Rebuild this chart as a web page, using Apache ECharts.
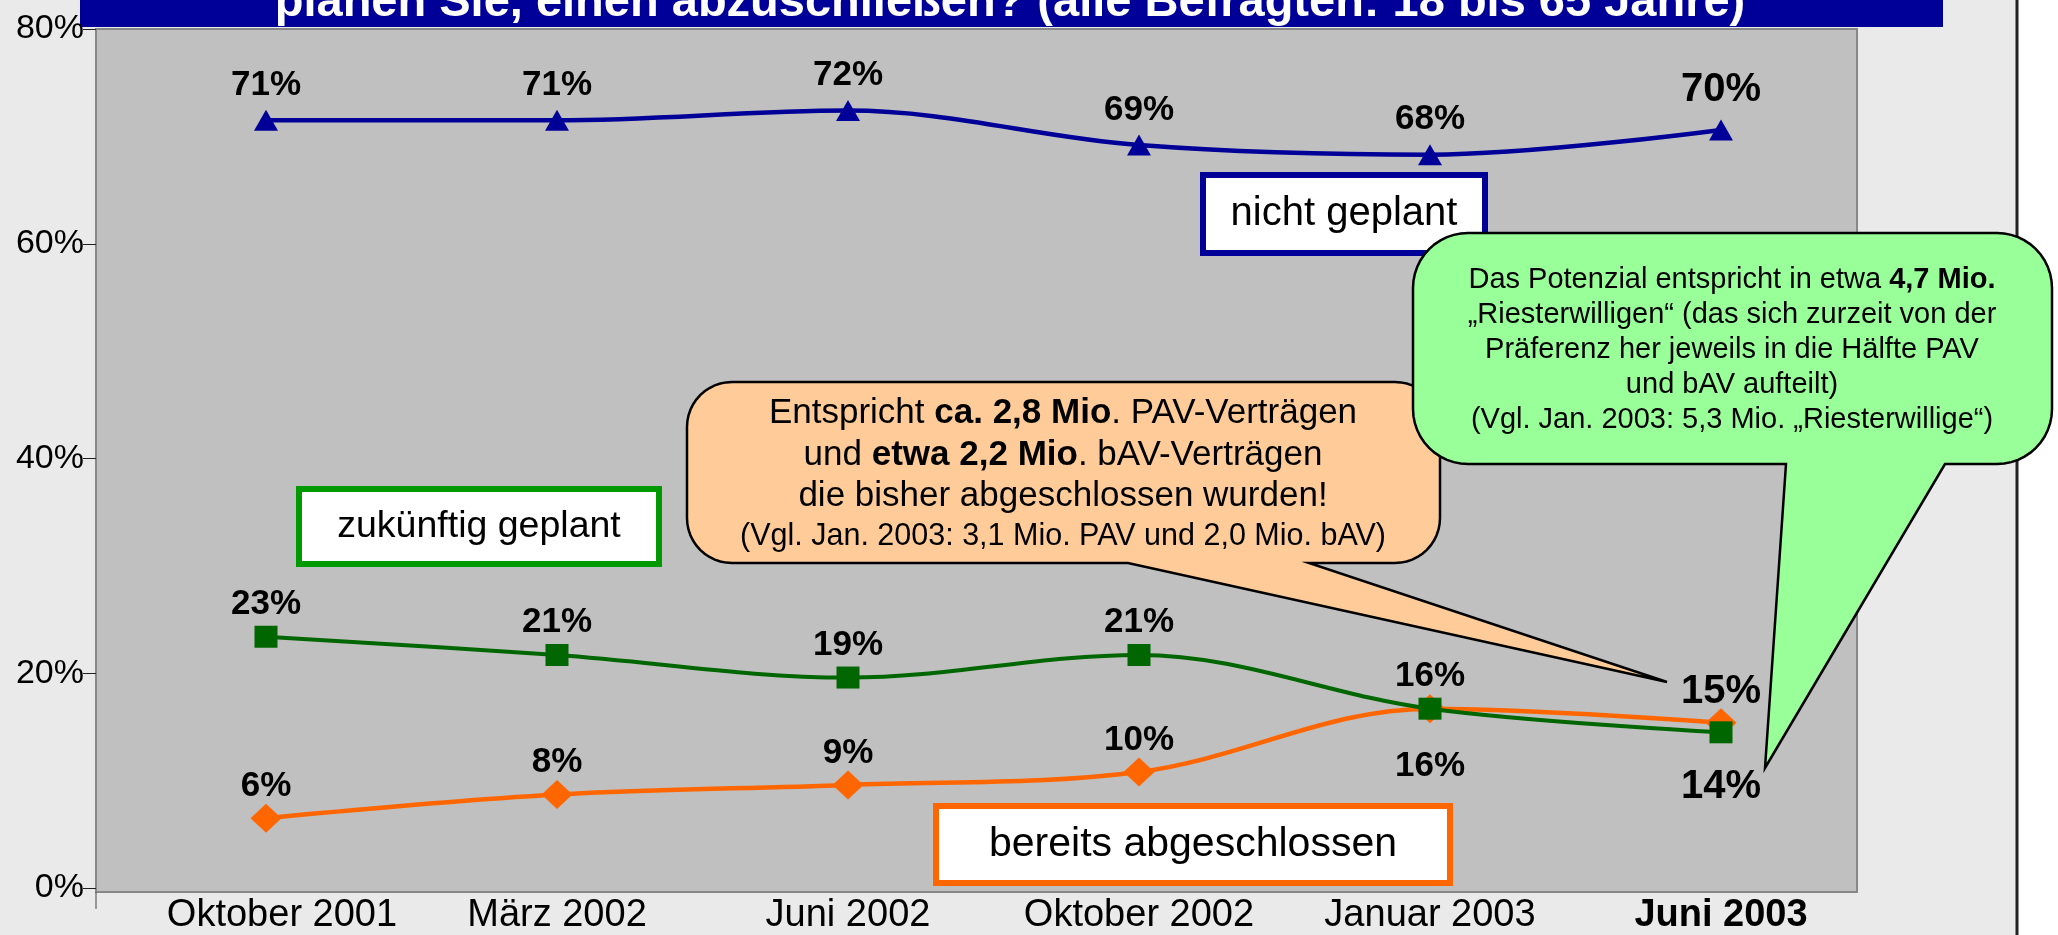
<!DOCTYPE html>
<html><head><meta charset="utf-8">
<script src="https://cdn.jsdelivr.net/npm/echarts@6/dist/echarts.min.js"></script>
<style>html,body{margin:0;padding:0;background:#EAEAEA}#c{width:2058px;height:935px}</style>
</head><body><div id="c"></div>
<script>
// ---- data ----
const categories = ['Oktober 2001', 'März 2002', 'Juni 2002', 'Oktober 2002', 'Januar 2003', 'Juni 2003'];
const nichtGeplant = [71.5, 71.5, 72.4, 69.2, 68.3, 70.6];
const zukuenftigGeplant = [23.4, 21.7, 19.6, 21.7, 16.7, 14.5];
const bereitsAbgeschlossen = [6.5, 8.7, 9.6, 10.8, 16.7, 15.4];
const yTickValues = [0, 20, 40, 60, 80];
const titleText = 'planen Sie, einen abzuschließen? (alle Befragten: 18 bis 65 Jahre)';
const seriesNames = ['nicht geplant', 'zukünftig geplant', 'bereits abgeschlossen'];
const orangeNote = [
  'Entspricht {b|ca. 2,8 Mio}. PAV-Verträgen',
  'und {b|etwa 2,2 Mio}. bAV-Verträgen',
  'die bisher abgeschlossen wurden!',
  '(Vgl. Jan. 2003: 3,1 Mio. PAV und 2,0 Mio. bAV)'
];
const greenNote = [
  'Das Potenzial entspricht in etwa {b|4,7 Mio.}',
  '„Riesterwilligen“ (das sich zurzeit von der',
  'Präferenz her jeweils in die Hälfte PAV',
  'und bAV aufteilt)',
  '(Vgl. Jan. 2003: 5,3 Mio. „Riesterwillige“)'
];

// ---- styles ----
const FF = '"Liberation Sans", Arial, sans-serif';
const BLUE = '#000099', GREEN = '#006600', ORANGE = '#FF6600';
const last = categories.length - 1;

function labelFor(pos, dist, i, bigDist, bigPos) {
  const big = i === last;
  return {
    show: true,
    position: big && bigPos ? bigPos : pos,
    distance: big ? bigDist : dist,
    fontSize: big ? 40 : 35,
    fontWeight: 'bold',
    fontFamily: FF,
    color: '#000',
    formatter: p => Math.floor(p.value) + '%'
  };
}

const blueData = nichtGeplant.map((v, i) => ({ value: v, label: labelFor('top', 7, i, 9) }));
const greenData = zukuenftigGeplant.map((v, i) => ({
  value: v,
  label: i === 4 ? labelFor('bottom', 29, i, 24) : labelFor('top', 4, i, 24, 'bottom')
}));
const orangeData = bereitsAbgeschlossen.map((v, i) => ({ value: v, label: labelFor('top', 0, i, -4) }));

// rounded-rect speech bubble outline as polygon points
function bubblePoints(L, T, R, B, r, tail) {
  const pts = [];
  function arc(cx, cy, a0, a1) {
    const n = 12;
    for (let k = 0; k <= n; k++) {
      const a = a0 + (a1 - a0) * k / n;
      pts.push([cx + r * Math.cos(a), cy + r * Math.sin(a)]);
    }
  }
  const P = Math.PI;
  arc(L + r, T + r, P, 1.5 * P);
  arc(R - r, T + r, 1.5 * P, 2 * P);
  arc(R - r, B - r, 0, 0.5 * P);
  pts.push([tail[0], B], [tail[2], tail[3]], [tail[1], B]);
  arc(L + r, B - r, 0.5 * P, P);
  return pts;
}

function textLine(x, y, txt, size, z) {
  return {
    type: 'text', x: x, y: y, z: z,
    style: {
      text: txt, fill: '#000', fontSize: size, fontFamily: FF,
      align: 'center', verticalAlign: 'middle',
      rich: { b: { fontWeight: 'bold', fontSize: size, fontFamily: FF, fill: '#000' } }
    }
  };
}

function labelBox(x, y, w, h, color, txt, size) {
  return [
    { type: 'rect', z: 50, shape: { x: x + 3, y: y + 3, width: w - 6, height: h - 6 },
      style: { fill: '#fff', stroke: color, lineWidth: 6 } },
    textLine(x + w / 2, y + h / 2, txt, size, 51)
  ];
}

const orangeLines = orangeNote.map((t, i) =>
  textLine(1063, [413, 455, 496, 537][i], t, i < 3 ? 35 : 30.5, 101));
const greenLines = greenNote.map((t, i) =>
  textLine(1732, [280, 315, 350, 385, 420][i], t, 29, 101));

const graphics = [
  { type: 'rect', z: -30, shape: { x: 2017, y: 0, width: 41, height: 935 }, style: { fill: '#fff' } },
  { type: 'rect', z: -29, shape: { x: 2015.5, y: 0, width: 3, height: 935 }, style: { fill: '#222' } },
  { type: 'rect', z: -20, shape: { x: 96, y: 29, width: 1761, height: 863 },
    style: { fill: '#C0C0C0', stroke: '#888', lineWidth: 2 } },
  { type: 'line', z: -19, shape: { x1: 96, y1: 892, x2: 96, y2: 909 }, style: { stroke: '#444', lineWidth: 1 } },
  { type: 'rect', z: -10, shape: { x: 80, y: 0, width: 1863, height: 27 }, style: { fill: BLUE } },
  { type: 'text', z: -9, x: 1010, y: 3,
    style: { text: titleText, fill: '#fff', fontSize: 47, fontWeight: 'bold', fontFamily: FF,
             align: 'center', verticalAlign: 'middle' } },
  ...labelBox(1200, 172, 288, 84, BLUE, seriesNames[0], 40),
  ...labelBox(296, 486, 366, 81, '#009900', seriesNames[1], 37.5),
  ...labelBox(933, 803, 520, 83, ORANGE, seriesNames[2], 41),
  { type: 'polygon', z: 100,
    shape: { points: bubblePoints(687, 382, 1440, 563, 45, [1309, 1128, 1667, 682]) },
    style: { fill: '#FFCC99', stroke: '#000', lineWidth: 2.5 } },
  ...orangeLines,
  { type: 'polygon', z: 100,
    shape: { points: bubblePoints(1413, 233, 2052, 464, 55, [1945, 1786, 1765, 768]) },
    style: { fill: '#99FF99', stroke: '#000', lineWidth: 2.5 } },
  ...greenLines
];

const chart = echarts.init(document.getElementById('c'), null, { renderer: 'canvas' });
chart.setOption({
  backgroundColor: '#EAEAEA',
  animation: false,
  grid: { left: 266, right: 2058 - 1721, top: 29, bottom: 935 - 892, containLabel: false },
  xAxis: {
    type: 'category', data: categories, boundaryGap: false,
    axisLine: { show: false }, axisTick: { show: false }, splitLine: { show: false },
    axisLabel: {
      interval: 0, margin: 9, fontSize: 38, fontFamily: FF, color: '#000',
      formatter: (v, i) => i === last ? '{b|' + v + '}' : (i === 0 ? '{f|' + v + '}' : v),
      rich: {
        b: { fontWeight: 'bold', fontSize: 38, fontFamily: FF, color: '#000' },
        f: { fontSize: 38, fontFamily: FF, color: '#000', padding: [0, 0, 0, 32] }
      }
    }
  },
  yAxis: {
    type: 'value', min: yTickValues[0], max: yTickValues[yTickValues.length - 1],
    interval: yTickValues[1] - yTickValues[0], offset: 170,
    axisLine: { show: false },
    axisTick: { show: true, length: 13, lineStyle: { color: '#222', width: 1 } },
    splitLine: { show: false },
    axisLabel: { margin: 12, fontSize: 34, fontFamily: FF, color: '#000', formatter: '{value}%' }
  },
  series: [
    { name: seriesNames[0], type: 'line', data: blueData, smooth: 0.35,
      symbol: 'triangle', symbolSize: [24, 21], itemStyle: { color: BLUE },
      lineStyle: { color: BLUE, width: 4.5 }, z: 3 },
    { name: seriesNames[2], type: 'line', data: orangeData, smooth: 0.35,
      symbol: 'diamond', symbolSize: [31, 29], itemStyle: { color: ORANGE },
      lineStyle: { color: ORANGE, width: 4.5 }, z: 3 },
    { name: seriesNames[1], type: 'line', data: greenData, smooth: 0.35,
      symbol: 'rect', symbolSize: [23, 22], itemStyle: { color: GREEN },
      lineStyle: { color: GREEN, width: 4 }, z: 4 }
  ],
  graphic: { elements: graphics }
});
</script></body></html>
